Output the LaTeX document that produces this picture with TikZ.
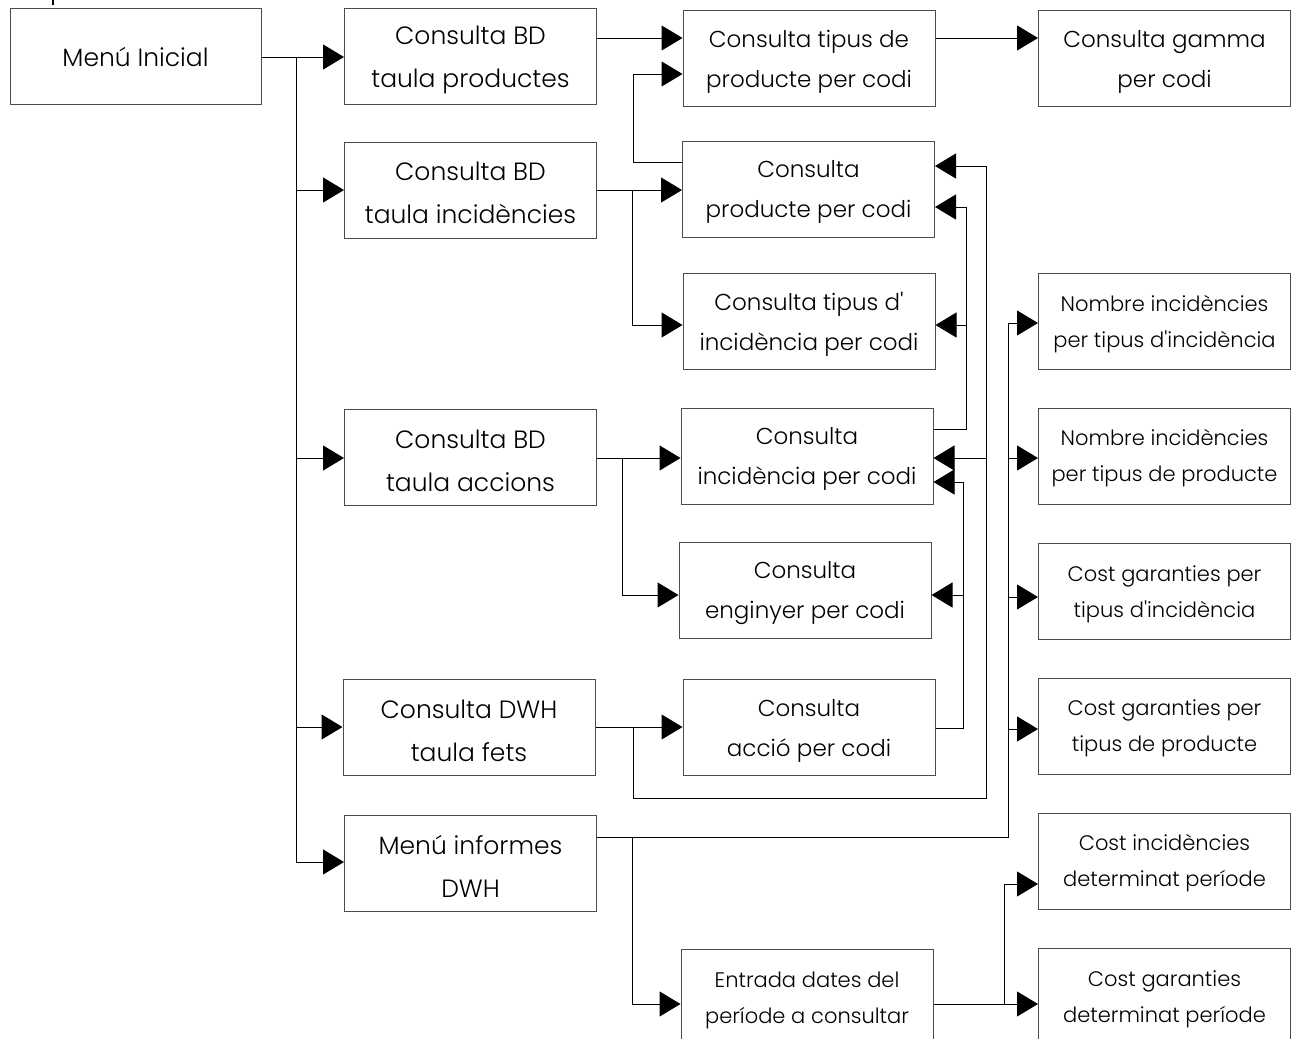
\documentclass[tikz,border=0pt]{standalone}
\usepackage{fontspec}
\IfFontExistsTF{Poppins Light}{\setmainfont{Poppins Light}}{\setmainfont{Poppins}}
\newcommand\apo{\textquotesingle}
\newcommand\st{\rule{0pt}{1em}}
\usetikzlibrary{arrows.meta,calc}
\begin{document}
\begin{tikzpicture}[x=1pt,y=-1pt,
  box/.style={draw=black!70,line width=1pt,fill=white,inner sep=0pt,align=center,minimum width=252pt,minimum height=96pt},
  big/.style={box,font=\fontsize{25}{43}\selectfont},
  mid/.style={box,font=\fontsize{23}{40}\selectfont},
  sml/.style={box,font=\fontsize{21}{36}\selectfont},
  conn/.style={line width=1pt,black},
  arr/.style={conn,-{Triangle[length=21pt,width=25pt]}}
]
\useasboundingbox (0,0) rectangle (1291,1039);
\fill[white] (0,0) rectangle (1291,1039);
% stray fragment at the top
\draw[line width=2pt] (53,0) -- (53,5);

\node[big,minimum width=251pt] (ini) at (135.5,56.5) {Menú Inicial};
\node[big] (bdp) at (470.5,56.5) {\st Consulta BD\\taula productes};
\node[mid] (tpp) at (809,58.5) {\st Consulta tipus de\\producte per codi};
\node[mid] (gam) at (1164.5,58.5) {\st Consulta gamma\\per codi};
\node[big] (bdi) at (470.5,190) {\st Consulta BD\\taula incidències};
\node[mid] (prod) at (808.5,189) {\st Consulta\\producte per codi};
\node[mid] (tinc) at (809,321.5) {\st Consulta tipus d\apo\\incidència per codi};
\node[sml] (n1) at (1164.5,321.5) {\st Nombre incidències\\per tipus d\apo incidència};
\node[big] (bda) at (470.5,457.5) {\st Consulta BD\\taula accions};
\node[mid] (inc) at (807,456) {\st Consulta\\incidència per codi};
\node[sml] (n2) at (1164.5,456) {\st Nombre incidències\\per tipus de producte};
\node[mid] (eng) at (805,590) {\st Consulta\\enginyer per codi};
\node[sml] (c1) at (1164.5,591.5) {\st Cost garanties per\\tipus d\apo incidència};
\node[big] (dwh) at (469,727.5) {\st Consulta DWH\\taula fets};
\node[mid] (acc) at (809,727.5) {\st Consulta\\acció per codi};
\node[sml] (c2) at (1164.5,726) {\st Cost garanties per\\tipus de producte};
\node[big] (inf) at (470.5,863.5) {\st Menú informes\\DWH};
\node[sml] (c3) at (1164.5,861) {\st Cost incidències\\determinat període};
\node[sml] (ent) at (807,997.5) {\st Entrada dates del\\període a consultar};
\node[sml] (c4) at (1164.5,996.5) {\st Cost garanties\\determinat període};

% main trunk from Menú Inicial
\draw[arr] (ini.east |- 0,57) -- (bdp.west |- 0,57);
\draw[conn] (296,57) -- (296,862);
\draw[arr] (296,190) -- (bdi.west |- 0,190);
\draw[arr] (296,458) -- (bda.west |- 0,458);
\draw[arr] (296,727) -- (dwh.west |- 0,727);
\draw[arr] (296,862) -- (inf.west |- 0,862);

% productes
\draw[arr] (bdp.east |- 0,38) -- (tpp.west |- 0,38);
\draw[arr] (tpp.east |- 0,38) -- (gam.west |- 0,38);
\draw[arr] (prod.west |- 0,162) -- (633,162) -- (633,74) -- (tpp.west |- 0,74);

% incidencies
\draw[arr] (bdi.east |- 0,190) -- (prod.west |- 0,190);
\draw[arr] (632,190) -- (632,325) -- (tinc.west |- 0,325);

% accions
\draw[arr] (bda.east |- 0,458) -- (inc.west |- 0,458);
\draw[arr] (622,458) -- (622,595) -- (eng.west |- 0,595);

% taula fets
\draw[arr] (dwh.east |- 0,727) -- (acc.west |- 0,727);
\draw[arr] (633,727) -- (633,798) -- (986,798) -- (986,166) -- (prod.east |- 0,166);
\draw[arr] (986,458) -- (inc.east |- 0,458);

% incidencia per codi -> producte, tipus incidencia
\draw[arr] (inc.east |- 0,429) -- (966,429) -- (966,207) -- (prod.east |- 0,207);
\draw[arr] (966,325) -- (tinc.east |- 0,325);

% accio per codi -> incidencia, enginyer
\draw[arr] (acc.east |- 0,728) -- (963,728) -- (963,482) -- (inc.east |- 0,482);
\draw[arr] (963,595) -- (eng.east |- 0,595);

% informes
\draw[conn] (inf.east |- 0,837) -- (1008,837) -- (1008,323);
\draw[arr] (1008,323) -- (n1.west |- 0,323);
\draw[arr] (1008,458) -- (n2.west |- 0,458);
\draw[arr] (1008,597) -- (c1.west |- 0,597);
\draw[arr] (1008,729) -- (c2.west |- 0,729);
\draw[arr] (632,837) -- (632,1004) -- (ent.west |- 0,1004);

% periode
\draw[arr] (ent.east |- 0,1004) -- (c4.west |- 0,1004);
\draw[arr] (1004,1004) -- (1004,884) -- (c3.west |- 0,884);
\end{tikzpicture}
\end{document}
